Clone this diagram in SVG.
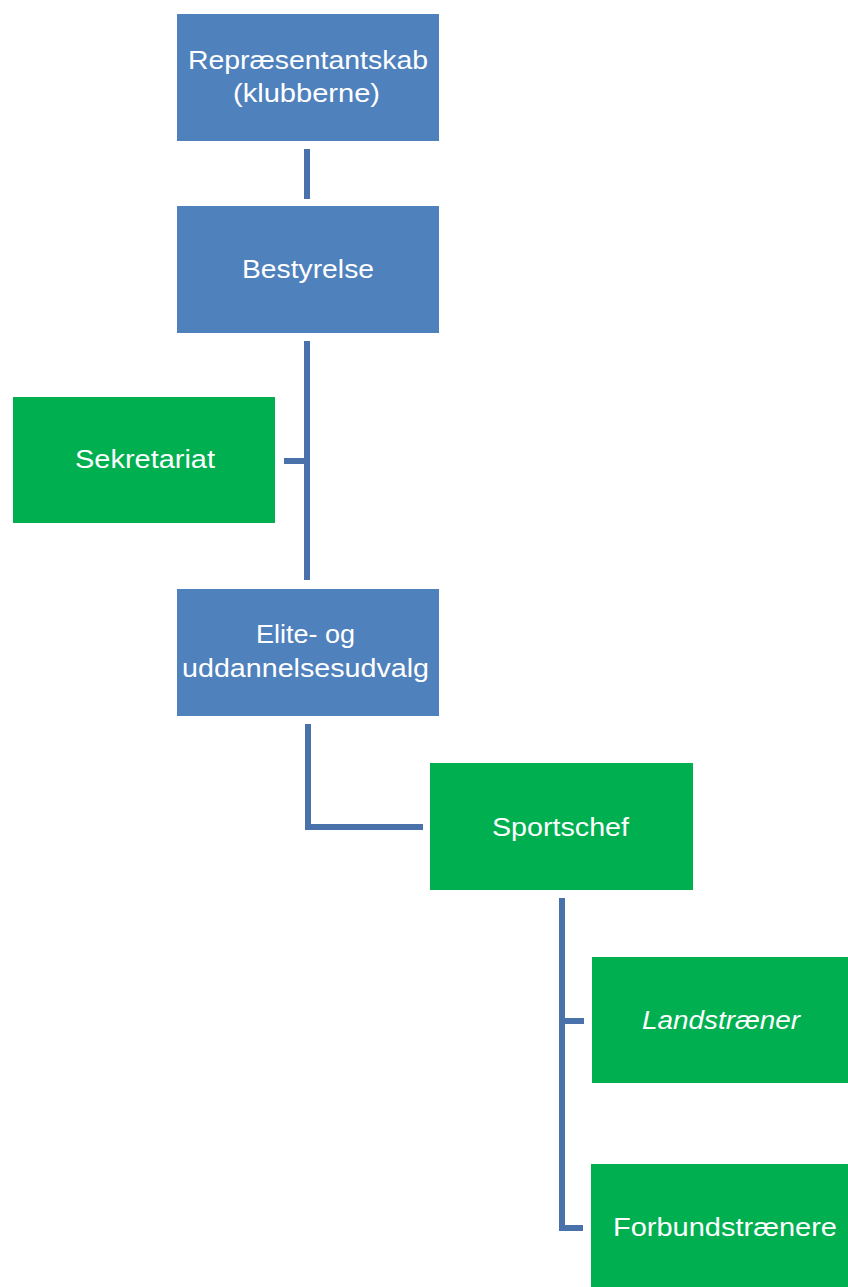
<svg xmlns="http://www.w3.org/2000/svg" width="848" height="1287" viewBox="0 0 848 1287">
  <style>
    .blue { fill: #4F81BD; }
    .green { fill: #00B050; }
    .lbl { fill: #FFFFFF; font-family: "Liberation Sans", Arial, sans-serif; font-size: 26px; text-anchor: middle; }
    .conn { fill: none; stroke: #4A72AA; stroke-width: 6; stroke-linecap: butt; stroke-linejoin: miter; }
  </style>
  <rect width="848" height="1287" fill="#FFFFFF"/>
  <g id="connectors">
    <line class="conn" x1="307" y1="149" x2="307" y2="199"/>
    <line class="conn" x1="307" y1="341" x2="307" y2="580"/>
    <line class="conn" x1="284" y1="461" x2="307" y2="461"/>
    <path class="conn" d="M308 724 V827 H423"/>
    <path class="conn" d="M562 898 V1228 H583"/>
    <line class="conn" x1="562" y1="1021" x2="584" y2="1021"/>
  </g>
  <g id="node-repraesentantskab">
    <rect class="blue" x="177" y="14" width="262" height="127"/>
    <text class="lbl" x="308" y="69" textLength="240" lengthAdjust="spacingAndGlyphs">Repræsentantskab</text>
    <text class="lbl" x="306.5" y="102" textLength="147" lengthAdjust="spacingAndGlyphs">(klubberne)</text>
  </g>
  <g id="node-bestyrelse">
    <rect class="blue" x="177" y="206" width="262" height="127"/>
    <text class="lbl" x="308" y="278" textLength="132" lengthAdjust="spacingAndGlyphs">Bestyrelse</text>
  </g>
  <g id="node-sekretariat">
    <rect class="green" x="13" y="397" width="262" height="126"/>
    <text class="lbl" x="145" y="468" textLength="140" lengthAdjust="spacingAndGlyphs">Sekretariat</text>
  </g>
  <g id="node-elite">
    <rect class="blue" x="177" y="589" width="262" height="127"/>
    <text class="lbl" x="305.5" y="643" textLength="99" lengthAdjust="spacingAndGlyphs">Elite- og</text>
    <text class="lbl" x="305.5" y="677" textLength="247" lengthAdjust="spacingAndGlyphs">uddannelsesudvalg</text>
  </g>
  <g id="node-sportschef">
    <rect class="green" x="430" y="763" width="263" height="127"/>
    <text class="lbl" x="560.5" y="836" textLength="137" lengthAdjust="spacingAndGlyphs">Sportschef</text>
  </g>
  <g id="node-landstraener">
    <rect class="green" x="592" y="957" width="262" height="126"/>
    <text class="lbl" x="721" y="1029" textLength="158" lengthAdjust="spacingAndGlyphs" font-style="italic">Landstræner</text>
  </g>
  <g id="node-forbundstraenere">
    <rect class="green" x="591" y="1164" width="262" height="126"/>
    <text class="lbl" x="725" y="1236" textLength="224" lengthAdjust="spacingAndGlyphs">Forbundstrænere</text>
  </g>
</svg>
